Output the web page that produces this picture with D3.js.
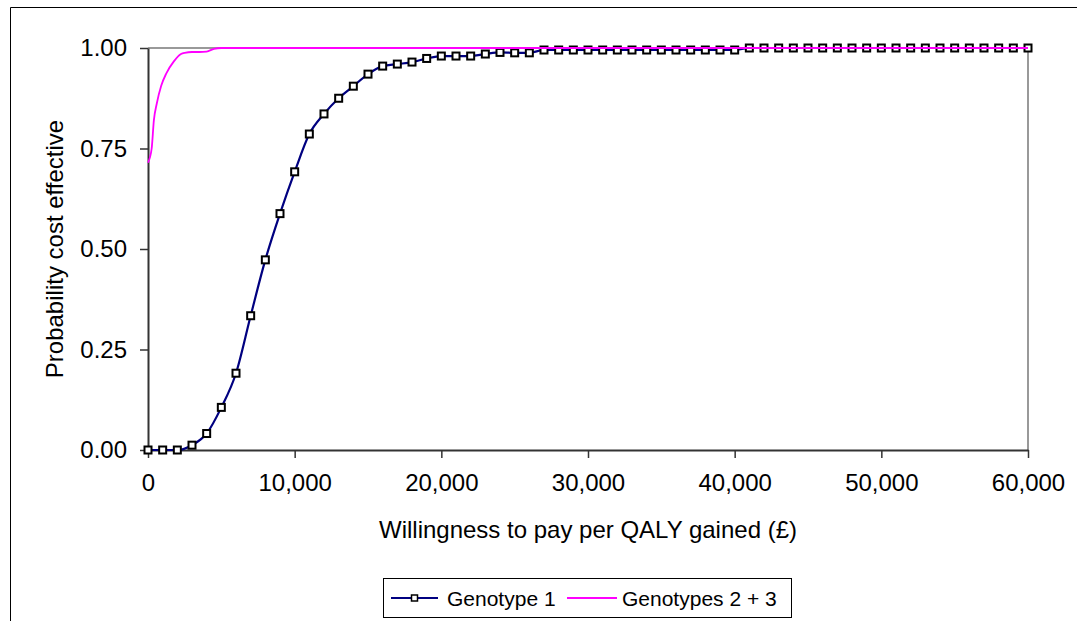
<!DOCTYPE html>
<html>
<head>
<meta charset="utf-8">
<script src="https://cdn.jsdelivr.net/npm/d3@7"></script>
<style>
  body { margin: 0; background: #fff; }
  svg { font-family: "Liberation Sans", Arial, sans-serif; }
</style>
</head>
<body>
<svg id="chart" width="1077" height="621"></svg>
<script>
// willingness to pay (GBP) at each marker of genotype 1
const wtp = [0, 1000, 2000, 3000, 4000, 5000, 6000, 7000, 8000, 9000,
  10000, 11000, 12000, 13000, 14000, 15000, 16000, 17000, 18000, 19000,
  20000, 21000, 22000, 23000, 24000, 25000, 26000, 27000, 28000, 29000,
  30000, 31000, 32000, 33000, 34000, 35000, 36000, 37000, 38000, 39000,
  40000, 41000, 42000, 43000, 44000, 45000, 46000, 47000, 48000, 49000,
  50000, 51000, 52000, 53000, 54000, 55000, 56000, 57000, 58000, 59000, 60000];
const genotype1 = [0, 0, 0, 0.012, 0.041, 0.106, 0.191, 0.334, 0.473, 0.588,
  0.692, 0.786, 0.836, 0.875, 0.905, 0.935, 0.955, 0.96, 0.965, 0.974,
  0.98, 0.98, 0.98, 0.985, 0.989, 0.988, 0.988, 0.995, 0.995, 0.995,
  0.995, 0.995, 0.995, 0.995, 0.995, 0.995, 0.995, 0.995, 0.995, 0.995,
  0.995, 1, 1, 1, 1, 1, 1, 1, 1, 1,
  1, 1, 1, 1, 1, 1, 1, 1, 1, 1, 1];

// genotypes 2 + 3 (no markers)
const wtp23 = [0, 250, 400, 600, 900, 1250, 1750, 2250, 2500, 3000,
  3500, 4000, 4500, 5000, 10000, 20000, 30000, 40000, 50000, 60000];
const genotype23 = [0.715, 0.75, 0.82, 0.862, 0.906, 0.937, 0.966, 0.985, 0.988, 0.99,
  0.99, 0.991, 0.998, 1, 1, 1, 1, 1, 1, 1];

const xTicks = [0, 10000, 20000, 30000, 40000, 50000, 60000];
const yTicks = [0, 0.25, 0.5, 0.75, 1];
const seriesNames = ["Genotype 1", "Genotypes 2 + 3"];

const navy = "#000080", pink = "#ff00ff";
const plotLeft = 148, plotRight = 1028, plotTop = 48, plotBottom = 450;

const svg = d3.select("#chart");

// outer chart frame (only the left and top edges are inside the picture)
svg.append("path")
   .attr("d", "M10.5,621 V7.5 H1077")
   .attr("fill", "none")
   .attr("stroke", "#000")
   .attr("stroke-width", 1);

const x = d3.scaleLinear().domain([0, 60000]).range([plotLeft, plotRight]);
const y = d3.scaleLinear().domain([0, 1]).range([plotBottom, plotTop]);

// plot area border (top + right, grey)
svg.append("path")
   .attr("d", `M${plotLeft},${plotTop} H${plotRight} V${plotBottom}`)
   .attr("fill", "none")
   .attr("stroke", "#999")
   .attr("stroke-width", 2);

const xAxis = svg.append("g")
   .attr("transform", `translate(0,${plotBottom})`)
   .call(d3.axisBottom(x).tickValues(xTicks).tickFormat(d3.format(",")).tickSize(8).tickPadding(16).tickSizeOuter(0));
const yAxis = svg.append("g")
   .attr("transform", `translate(${plotLeft},0)`)
   .call(d3.axisLeft(y).tickValues(yTicks).tickFormat(d3.format(".2f")).tickSize(8).tickPadding(13).tickSizeOuter(0));

[xAxis, yAxis].forEach(g => {
  g.selectAll(".domain").attr("stroke", "#333").attr("stroke-width", 2);
  g.selectAll(".tick line").attr("stroke", "#333").attr("stroke-width", 1.5);
  g.selectAll(".tick text").attr("fill", "#000").style("font-size", "24px");
});

svg.append("text")
   .attr("x", 588)
   .attr("y", 538)
   .attr("text-anchor", "middle")
   .style("font-size", "24px")
   .text("Willingness to pay per QALY gained (£)");

svg.append("text")
   .attr("transform", "translate(63,249) rotate(-90)")
   .attr("text-anchor", "middle")
   .style("font-size", "24px")
   .text("Probability cost effective");

const line = d3.line()
   .x(d => x(d[0]))
   .y(d => y(d[1]))
   .curve(d3.curveMonotoneX);

const g1 = wtp.map((w, i) => [w, genotype1[i]]);
const g23 = wtp23.map((w, i) => [w, genotype23[i]]);

svg.append("path")
   .datum(g1)
   .attr("fill", "none")
   .attr("stroke", navy)
   .attr("stroke-width", 2.2)
   .attr("d", line);

svg.append("g")
   .selectAll("rect")
   .data(g1)
   .join("rect")
   .attr("x", d => x(d[0]) - 3.5)
   .attr("y", d => y(d[1]) - 3.5)
   .attr("width", 7)
   .attr("height", 7)
   .attr("fill", "#fff")
   .attr("stroke", "#000")
   .attr("stroke-width", 2);

svg.append("path")
   .datum(g23)
   .attr("fill", "none")
   .attr("stroke", pink)
   .attr("stroke-width", 1.8)
   .attr("d", line);

// legend
const legend = svg.append("g");
legend.append("rect")
   .attr("x", 383.5).attr("y", 578.5)
   .attr("width", 408).attr("height", 39)
   .attr("fill", "#fff")
   .attr("stroke", "#000")
   .attr("stroke-width", 1);

const items = [
  { name: seriesNames[0], color: navy, marker: true, x0: 391, x1: 438, tx: 447 },
  { name: seriesNames[1], color: pink, marker: false, x0: 567, x1: 617, tx: 622 }
];
items.forEach(it => {
  legend.append("line")
     .attr("x1", it.x0).attr("x2", it.x1)
     .attr("y1", 598).attr("y2", 598)
     .attr("stroke", it.color)
     .attr("stroke-width", 2);
  if (it.marker) {
    legend.append("rect")
       .attr("x", (it.x0 + it.x1) / 2 - 3).attr("y", 595)
       .attr("width", 6).attr("height", 6)
       .attr("fill", "#fff")
       .attr("stroke", "#000")
       .attr("stroke-width", 1.5);
  }
  legend.append("text")
     .attr("x", it.tx)
     .attr("y", 605.5)
     .style("font-size", "21px")
     .text(it.name);
});
</script>
</body>
</html>
